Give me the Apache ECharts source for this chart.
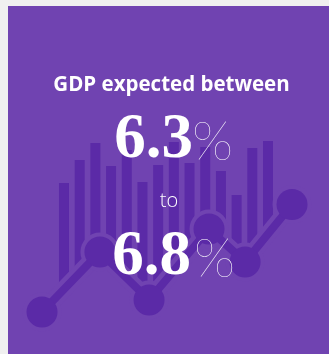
<!DOCTYPE html>
<html>
<head>
<meta charset="utf-8">
<script src="https://cdn.jsdelivr.net/npm/echarts@6/dist/echarts.min.js"></script>
<style>
  html, body { margin: 0; padding: 0; background: #f0f0f0; width: 329px; height: 354px; overflow: hidden; }
  #chart { position: absolute; left: 8px; top: 6px; width: 321px; height: 348px; }
</style>
</head>
<body>
<div id="chart"></div>
<script>
// Decorative background bars: categories, top value, base value where the trend line cuts them
const barCats = ['1', '2', '3', '4', '5', '6', '7', '8', '9', '10', '11', '12', '13', '14'];
const barTop  = [73.5, 85, 93.5, 82, 90, 74, 82.5, 94, 83.5, 91.5, 79.5, 67.5, 91, 94.5];
const barBase = [20.5, 28, 36.5, 33.5, 26, 18.5, 20.5, 30, 38.5, 48, 45, 37.5, 38.5, 48];
// Decorative trend line points (x in bar-index units)
const lineX = [-1.40, 2.29, 5.42, 9.24, 11.54, 14.53];
const lineY = [9, 39, 15, 50.5, 34, 62.75];
// Texts
const headline = 'GDP expected between';
const lowValue = '6.3';
const highValue = '6.8';
const connector = 'to';
const pct = '%';

const PANEL = '#7043b1';
const DARK = '#5b2aa7';

const barHeight = barTop.map((t, i) => t - barBase[i]);
const lineData = lineX.map((x, i) => [x, lineY[i]]);

const chart = echarts.init(document.getElementById('chart'), null, { renderer: 'canvas' });
chart.setOption({
  animation: false,
  backgroundColor: PANEL,
  grid: [
    { left: 48.15, width: 219.7, top: 124, bottom: 24 },
    { left: 24.6, right: 13.9, top: 124, bottom: 24 }
  ],
  xAxis: [
    { type: 'category', gridIndex: 0, data: barCats, boundaryGap: true, show: false },
    { type: 'value', gridIndex: 1, min: -2, max: 16, show: false }
  ],
  yAxis: [
    { type: 'value', gridIndex: 0, min: 0, max: 100, show: false },
    { type: 'value', gridIndex: 1, min: 0, max: 100, show: false }
  ],
  series: [
    { type: 'bar', xAxisIndex: 0, yAxisIndex: 0, stack: 'b', data: barBase, barWidth: 10,
      itemStyle: { color: 'rgba(0,0,0,0)' }, z: 2, silent: true },
    { type: 'bar', xAxisIndex: 0, yAxisIndex: 0, stack: 'b', data: barHeight, barWidth: 10,
      itemStyle: { color: DARK }, z: 2, silent: true },
    { type: 'line', xAxisIndex: 1, yAxisIndex: 1, data: lineData, z: 3, symbol: 'circle', symbolSize: 39,
      lineStyle: { color: PANEL, width: 17 }, itemStyle: { color: PANEL, borderWidth: 0 }, silent: true },
    { type: 'line', xAxisIndex: 1, yAxisIndex: 1, data: lineData, z: 4, symbol: 'circle', symbolSize: 31,
      lineStyle: { color: DARK, width: 8 }, itemStyle: { color: DARK, borderWidth: 0 }, silent: true }
  ],
  graphic: [
    { type: 'text', z: 100, style: { text: headline, x: 163.5, y: 79, align: 'center', verticalAlign: 'middle',
        fill: '#ffffff', font: 'bold 20.5px "Open Sans"' } },
    { type: 'text', z: 100, style: { text: lowValue, x: 185, y: 135, align: 'right', verticalAlign: 'middle',
        fill: '#ffffff', font: 'bold 63px "Liberation Serif"' } },
    { type: 'text', z: 100, style: { text: pct, x: 184, y: 137, align: 'left', verticalAlign: 'middle',
        fill: '#ffffff', font: '100 54px "Lato"' } },
    { type: 'text', z: 100, style: { text: connector, x: 161, y: 195, align: 'center', verticalAlign: 'middle',
        fill: '#ffffff', font: '300 20px "Open Sans"' } },
    { type: 'text', z: 100, style: { text: highValue, x: 183, y: 252, align: 'right', verticalAlign: 'middle',
        fill: '#ffffff', font: 'bold 63px "Liberation Serif"' } },
    { type: 'text', z: 100, style: { text: pct, x: 186, y: 254, align: 'left', verticalAlign: 'middle',
        fill: '#ffffff', font: '100 54px "Lato"' } }
  ]
});
</script>
</body>
</html>
